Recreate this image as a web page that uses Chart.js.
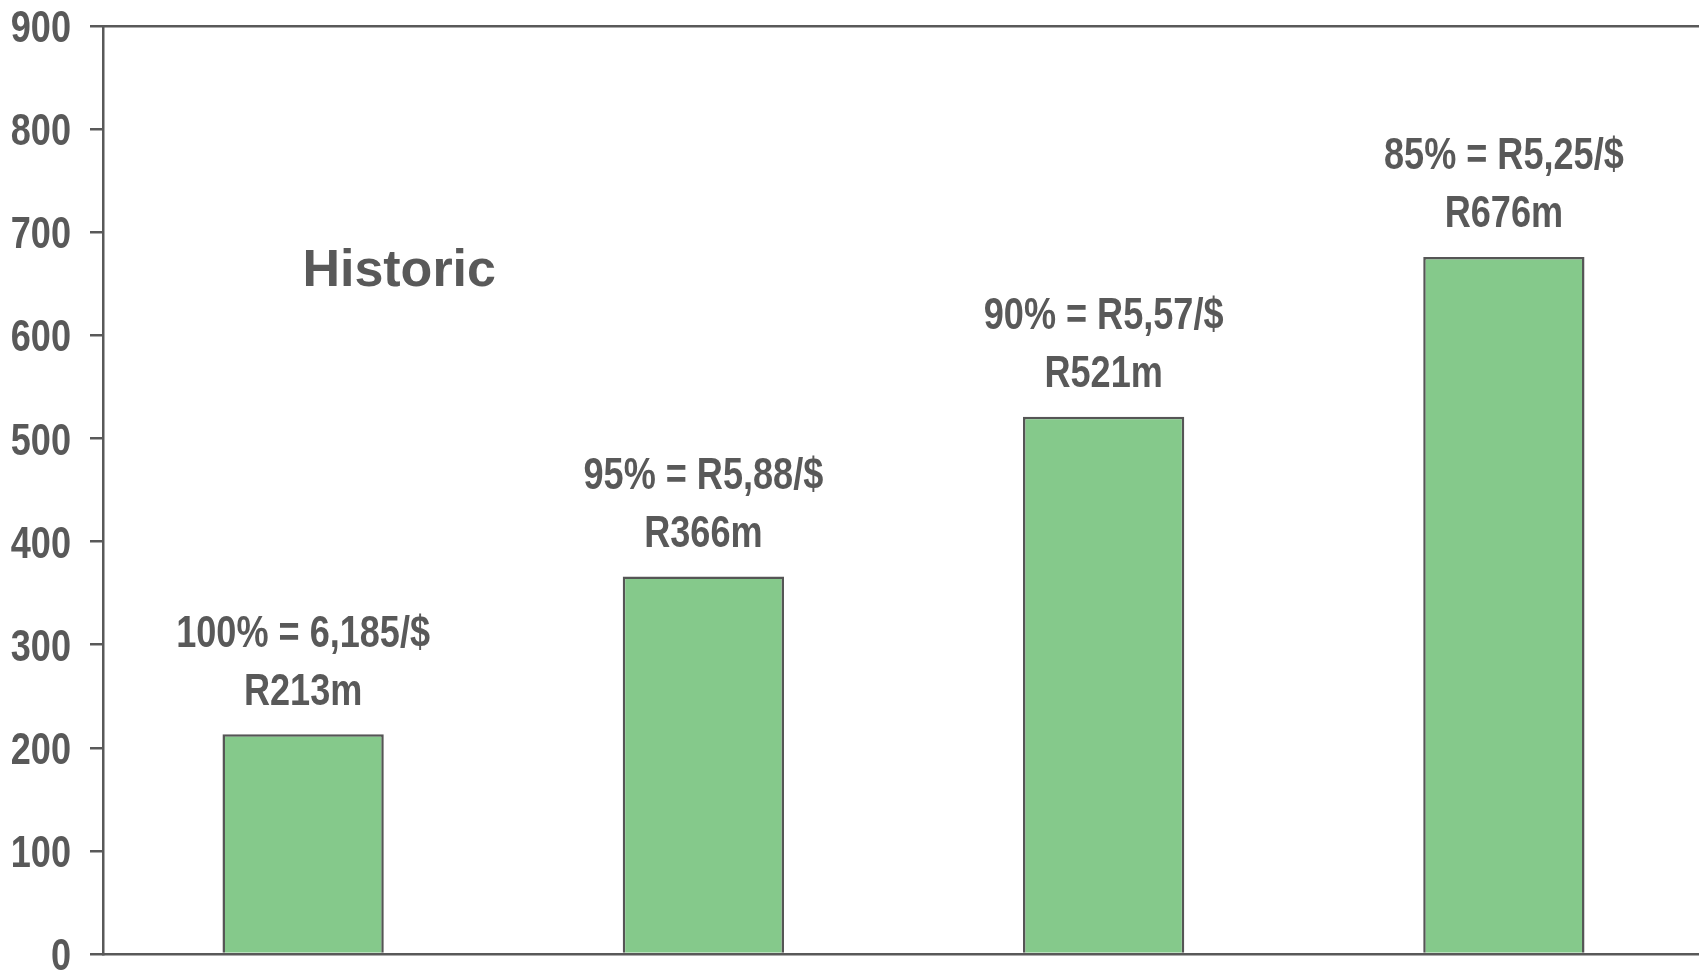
<!DOCTYPE html>
<html>
<head>
<meta charset="utf-8">
<script src="https://cdn.jsdelivr.net/npm/chart.js@4/dist/chart.umd.min.js"></script>
<style>
  html, body { margin: 0; padding: 0; background: #fff; overflow: hidden; }
  #wrap { width: 1699px; height: 971px; overflow: hidden; }
</style>
</head>
<body>
<div id="wrap"><canvas id="myChart" width="1704" height="971"></canvas></div>
<script>
const categories = ['100%', '95%', '90%', '85%'];
const values = [213, 366, 521, 676];
const rateLabels = ['100% = 6,185/$', '95% = R5,88/$', '90% = R5,57/$', '85% = R5,25/$'];
const valueLabels = ['R213m', 'R366m', 'R521m', 'R676m'];
const yTicks = [0, 100, 200, 300, 400, 500, 600, 700, 800, 900];

const grey = '#595959';
const boldFont = "bold 44px 'Liberation Sans', Arial, sans-serif";

// no narrow font installed, so squeeze Liberation Sans Bold sideways
function narrowText(ctx, text, x, y, align) {
  ctx.save();
  ctx.translate(x, y);
  ctx.scale(0.82, 1);
  ctx.textAlign = align;
  ctx.fillText(text, 0, 0);
  ctx.restore();
}

// y tick labels, labels above each bar, plus the "Historic" note
const barLabels = {
  id: 'barLabels',
  afterDatasetsDraw(chart) {
    const ctx = chart.ctx;
    const meta = chart.getDatasetMeta(0);
    const xs = chart.scales.x, ys = chart.scales.y;
    ctx.save();
    ctx.fillStyle = grey;
    ctx.textBaseline = 'middle';
    ctx.font = boldFont;
    ys.ticks.forEach(t => {
      narrowText(ctx, String(t.value), ys.right - 32, ys.getPixelForValue(t.value) + 4, 'right');
    });
    meta.data.forEach((bar, i) => {
      narrowText(ctx, rateLabels[i], bar.x, bar.y - 100, 'center');
      narrowText(ctx, valueLabels[i], bar.x, bar.y - 42, 'center');
    });
    ctx.textAlign = 'center';
    ctx.font = "bold 52px 'Liberation Sans', Arial, sans-serif";
    ctx.fillText('Historic', xs.getPixelForValue(0.24), ys.getPixelForValue(662));
    ctx.restore();
  }
};

new Chart(document.getElementById('myChart'), {
  type: 'bar',
  data: {
    labels: categories,
    datasets: [{
      data: values,
      backgroundColor: '#85C98B',
      borderColor: '#555555',
      borderWidth: 2.5,
      barPercentage: 0.403,
      categoryPercentage: 1
    }]
  },
  options: {
    responsive: false,
    animation: false,
    devicePixelRatio: 1,
    layout: { padding: 0 },
    plugins: { legend: { display: false }, tooltip: { enabled: false } },
    scales: {
      x: {
        ticks: { display: false },
        grid: { display: false },
        border: { display: true, color: grey, width: 2.5 },
        afterFit(s) { s.height = 17; }
      },
      xTop: {
        position: 'top',
        ticks: { display: false },
        grid: { display: false },
        border: { display: true, color: grey, width: 2.5 },
        afterFit(s) { s.height = 26; }
      },
      y: {
        min: 0,
        max: 900,
        afterBuildTicks(s) { s.ticks = yTicks.map(v => ({ value: v })); },
        ticks: { display: false },
        grid: { drawOnChartArea: false, drawTicks: true, tickLength: 13, color: grey, lineWidth: 2.5 },
        border: { display: true, color: grey, width: 2.5 },
        afterFit(s) { s.width = 103; s.paddingTop = 0; s.paddingBottom = 0; }
      }
    }
  },
  plugins: [barLabels]
});
</script>
</body>
</html>
